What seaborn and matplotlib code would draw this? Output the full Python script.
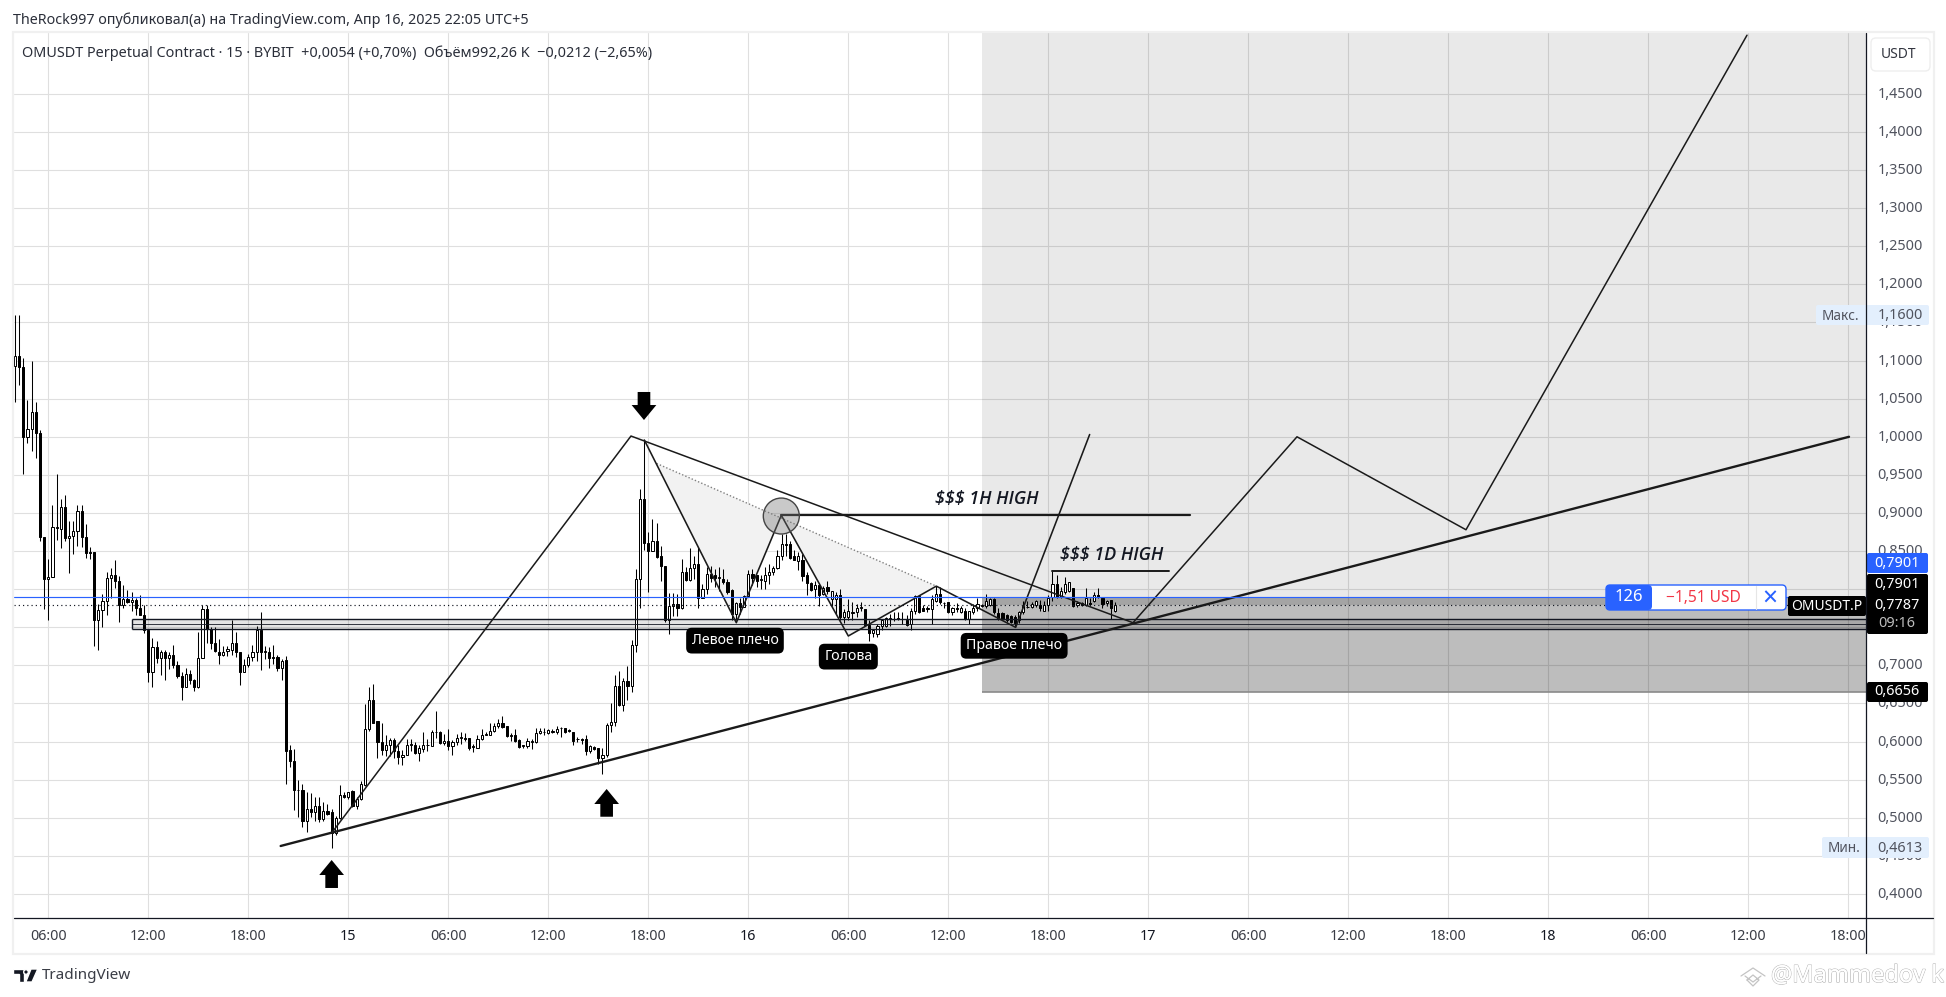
"""OMUSDT 15m chart with a drawn head and shoulders setup, TradingView look."""
import numpy as np
import seaborn as sns
from matplotlib import pyplot as plt
from matplotlib.patches import Ellipse, FancyBboxPatch, Polygon, Rectangle, Circle
from matplotlib.transforms import ScaledTranslation
import matplotlib.patheffects as pe

W, H = 1946, 997
UI_FONT = ["Noto Sans", "DejaVu Sans"]

# candles, 15 minutes each, first one at 04:00 on the 14th
OPENS = [
    1.093, 1.106, 1.092, 1.000, 1.010, 1.033, 1.005, .868, .813, .816, .880, .879, .908, .867, .870, .877, .902, .869, .849, .849,
    .759, .773, .785, .815, .818, .811, .779, .787, .783, .786, .775, .766, .747, .691, .724, .710, .717, .710, .714, .700,
    .686, .672, .689, .681, .671, .710, .774, .748, .729, .718, .713, .719, .720, .729, .718, .691, .700, .711, .718, .746,
    .718, .718, .711, .711, .696, .707, .589, .575, .537, .537, .496, .511, .507, .516, .498, .509, .507, .480, .500, .530,
    .527, .535, .516, .525, .543, .617, .655, .627, .600, .589, .596, .602, .588, .580, .583, .596, .596, .585, .590, .595,
    .594, .613, .613, .598, .601, .594, .599, .605, .605, .605, .594, .592, .603, .609, .609, .614, .620, .625, .620, .607,
    .608, .602, .594, .594, .600, .600, .611, .612, .611, .613, .612, .618, .618, .615, .612, .603, .603, .603, .588, .593,
    .591, .579, .583, .622, .626, .673, .648, .679, .673, .727, .814, .918, .861, .850, .863, .843, .831, .759, .778, .781,
    .775, .823, .812, .828, .833, .789, .800, .820, .819, .815, .814, .809, .799, .768, .782, .777, .791, .820, .818, .812,
    .811, .818, .822, .828, .844, .859, .859, .843, .837, .838, .818, .808, .800, .805, .794, .803, .787, .787, .793, .763,
    .763, .769, .770, .775, .774, .753, .743, .741, .752, .752, .761, .761, .761, .761, .759, .754, .771, .791, .775, .774,
    .774, .785, .794, .782, .783, .770, .775, .770, .772, .761, .770, .775, .778, .778, .779, .787, .769, .769, .766, .765,
    .764, .759, .770, .776, .776, .779, .779, .772, .779, .790, .807, .790, .796, .798, .802, .779, .782, .779, .782, .785,
    .792, .788, .782, .786, .772,
]
HIGHS = [
    1.160, 1.160, 1.103, 1.048, 1.099, 1.046, 1.009, .868, .840, .911, .951, .918, .924, .889, .889, .910, .911, .885, .856, .849,
    .781, .794, .823, .828, .838, .817, .806, .799, .796, .789, .792, .779, .747, .736, .732, .720, .720, .717, .727, .706,
    .691, .697, .694, .682, .744, .779, .779, .750, .750, .735, .726, .726, .759, .744, .718, .708, .715, .727, .752, .770,
    .725, .724, .727, .714, .708, .712, .595, .590, .549, .545, .534, .533, .527, .527, .521, .518, .512, .503, .543, .534,
    .534, .536, .527, .548, .649, .671, .675, .627, .625, .608, .605, .605, .596, .589, .603, .603, .600, .595, .612, .603,
    .615, .640, .614, .610, .617, .602, .610, .612, .611, .605, .597, .608, .617, .613, .625, .624, .630, .633, .621, .611,
    .616, .603, .596, .605, .603, .618, .618, .618, .616, .616, .621, .619, .618, .617, .613, .606, .605, .608, .596, .594,
    .591, .591, .625, .650, .687, .693, .684, .699, .733, .827, .932, .996, .875, .892, .887, .857, .831, .795, .795, .794,
    .839, .829, .854, .844, .855, .807, .829, .830, .826, .829, .826, .814, .800, .783, .789, .792, .825, .827, .819, .818,
    .829, .833, .830, .851, .873, .873, .863, .851, .849, .846, .822, .809, .811, .808, .804, .811, .798, .796, .800, .774,
    .787, .783, .781, .783, .774, .759, .748, .754, .761, .763, .768, .770, .770, .770, .766, .775, .793, .792, .779, .778,
    .792, .804, .803, .783, .783, .777, .782, .778, .775, .772, .780, .788, .781, .794, .788, .788, .775, .770, .768, .766,
    .766, .772, .785, .785, .783, .786, .786, .785, .792, .824, .818, .803, .816, .810, .802, .785, .783, .802, .788, .796,
    .802, .790, .786, .786, .783,
]
LOWS = [
    1.045, 1.068, .951, .992, .981, .972, .863, .774, .759, .816, .864, .854, .863, .821, .846, .857, .856, .841, .839, .725,
    .720, .750, .766, .789, .801, .757, .775, .782, .772, .766, .766, .743, .678, .671, .703, .688, .681, .695, .697, .684,
    .655, .672, .675, .667, .670, .710, .730, .721, .717, .702, .712, .712, .714, .711, .674, .691, .698, .706, .706, .694,
    .708, .696, .702, .693, .681, .545, .567, .510, .501, .488, .481, .501, .496, .494, .496, .504, .461, .477, .499, .526,
    .525, .514, .511, .523, .542, .614, .624, .579, .582, .581, .581, .579, .570, .569, .582, .588, .584, .575, .586, .588,
    .594, .605, .597, .595, .589, .583, .596, .597, .601, .589, .586, .592, .602, .608, .609, .613, .618, .618, .606, .601,
    .599, .591, .591, .591, .590, .598, .610, .609, .610, .611, .610, .606, .611, .613, .596, .600, .597, .583, .585, .589,
    .571, .558, .580, .613, .621, .647, .640, .654, .665, .717, .775, .851, .796, .850, .841, .811, .757, .741, .765, .765,
    .774, .811, .811, .814, .775, .788, .794, .809, .803, .798, .807, .794, .759, .759, .768, .776, .790, .805, .803, .800,
    .800, .807, .819, .827, .838, .844, .840, .838, .825, .811, .793, .798, .789, .778, .792, .794, .778, .768, .759, .755,
    .759, .759, .763, .772, .752, .732, .737, .737, .746, .750, .752, .758, .759, .754, .752, .747, .768, .769, .771, .770,
    .754, .783, .781, .775, .769, .766, .770, .769, .760, .754, .768, .772, .777, .775, .778, .768, .760, .759, .757, .755,
    .750, .755, .768, .775, .775, .777, .772, .771, .771, .785, .788, .788, .794, .796, .777, .777, .778, .778, .778, .783,
    .788, .775, .778, .761, .770,
]
CLOSES = [
    1.106, 1.092, 1.000, 1.010, 1.033, 1.005, .868, .813, .816, .881, .881, .908, .867, .870, .877, .902, .869, .847, .848, .759,
    .773, .785, .815, .818, .811, .779, .787, .783, .786, .775, .766, .747, .691, .724, .710, .717, .710, .714, .700, .686,
    .672, .689, .681, .671, .710, .774, .748, .729, .719, .713, .718, .721, .729, .718, .691, .700, .711, .718, .746, .718,
    .719, .710, .710, .696, .706, .588, .575, .536, .536, .496, .511, .507, .516, .498, .509, .505, .480, .500, .530, .527,
    .534, .515, .525, .544, .617, .655, .625, .600, .589, .596, .602, .588, .580, .583, .596, .597, .585, .591, .595, .596,
    .613, .612, .598, .601, .594, .600, .605, .606, .604, .591, .593, .603, .609, .610, .614, .620, .625, .619, .607, .608,
    .601, .593, .595, .601, .601, .611, .614, .613, .615, .614, .617, .618, .612, .614, .601, .604, .602, .588, .594, .590,
    .579, .583, .622, .626, .673, .648, .679, .673, .727, .814, .918, .860, .850, .863, .842, .830, .759, .778, .781, .775,
    .823, .812, .828, .833, .789, .800, .820, .815, .815, .816, .809, .796, .768, .782, .777, .791, .820, .815, .811, .814,
    .819, .822, .828, .844, .859, .858, .841, .838, .843, .817, .808, .799, .805, .793, .802, .797, .797, .793, .763, .770,
    .772, .770, .775, .776, .753, .743, .746, .752, .759, .762, .762, .761, .762, .761, .753, .771, .791, .770, .772, .775,
    .787, .794, .783, .782, .770, .775, .774, .775, .761, .771, .775, .780, .779, .784, .787, .770, .762, .761, .760, .757,
    .755, .770, .778, .777, .780, .784, .775, .779, .788, .807, .790, .798, .807, .809, .778, .782, .779, .788, .780, .792,
    .790, .781, .785, .775, .7787,
]
BAR_HOURS = 0.25
START_HOUR = 4.0

# price axis, the two prices hidden behind the black labels get no label
Y_TICKS = [0.40, 0.45, 0.50, 0.55, 0.60, 0.65, 0.70, 0.75, 0.80, 0.85, 0.90, 0.95, 1.00, 1.05, 1.10, 1.15,
           1.20, 1.25, 1.30, 1.35, 1.40, 1.45]
HIDDEN_TICKS = (0.75, 0.80)
# time axis, hours since 00:00 on the 14th
X_TICKS = list(range(6, 115, 6))
X_LABELS = ["06:00", "12:00", "18:00", "15", "06:00", "12:00", "18:00", "16", "06:00", "12:00", "18:00",
            "17", "06:00", "12:00", "18:00", "18", "06:00", "12:00", "18:00"]
DAY_LABELS = ("15", "16", "17", "18")

# drawings on the chart as hour / price pairs
TREND_X, TREND_Y = [19.94, 114.04], [0.463, 1.000]
SWING_X = [23.0, 40.96, 71.08, 80.92, 91.06, 107.92]
SWING_Y = [0.480, 1.001, 0.756, 1.000, 0.878, 1.527]
HS_X = [41.76, 47.28, 49.98, 54.0, 59.28, 64.04, 68.48]
HS_Y = [0.9958, 0.756, 0.897, 0.7386, 0.804, 0.7499, 1.003]
SHADE_X = [42.5, 59.28, 54.0, 49.98, 47.28]
SHADE_Y = [0.965, 0.804, 0.7386, 0.897, 0.756]
ZONE_PRICES = [0.7605, 0.7540, 0.7474]
BLUE_PRICE, LAST_PRICE, STOP_PRICE = 0.7901, 0.7787, 0.6656

sns.set_theme(style="white")
plt.rcParams["font.family"] = UI_FONT

fig = plt.figure(figsize=(W / 100, H / 100), dpi=100, facecolor="white")
ax = fig.add_axes([14 / W, (H - 918) / H, (1866 - 14) / W, (918 - 33) / H])
ax.set_xlim(3.942, 115.06)
ax.set_ylim(0.3685, 1.5299)
ax.set_axisbelow(True)
ax.grid(True, color="#dfdfdf", lw=0.8)
for side in ax.spines.values():
    side.set_visible(False)

ax.yaxis.tick_right()
ax.set_yticks(Y_TICKS)
ax.set_yticklabels(["" if v in HIDDEN_TICKS else f"{v:.4f}".replace(".", ",") for v in Y_TICKS],
                   color="#50535e", fontsize=10.4)
ax.tick_params(axis="y", length=0, pad=8.4)
# price labels sit a little above their grid line
lift = ScaledTranslation(0, 1.5 / 100, fig.dpi_scale_trans)
for label in ax.get_yticklabels():
    label.set_transform(label.get_transform() + lift)
ax.set_xticks(X_TICKS)
ax.set_xticklabels(X_LABELS, color="#3a3d46", fontsize=10.3)
ax.tick_params(axis="x", length=0, pad=8)
for label in ax.get_xticklabels():
    if label.get_text() in DAY_LABELS:
        label.set_fontweight("bold")
        label.set_color("#131722")

# long/short box and the support zone
right = ax.get_xlim()[1]
top = ax.get_ylim()[1]
ax.add_patch(Rectangle((62.0, BLUE_PRICE), right - 62.0, top - BLUE_PRICE, fc="black", alpha=0.085, lw=0, zorder=1.5))
ax.add_patch(Rectangle((62.0, STOP_PRICE), right - 62.0, BLUE_PRICE - STOP_PRICE, fc="black", alpha=0.26, lw=0, zorder=1.5))
ax.add_patch(Rectangle((62.0, LAST_PRICE), right - 62.0, BLUE_PRICE - LAST_PRICE, fc="black", alpha=0.13, lw=0, zorder=1.6))
ax.hlines(STOP_PRICE, 62.0, right, color="#8a8a8a", lw=1.2, zorder=1.7)
ax.add_patch(Rectangle((11.0, ZONE_PRICES[2]), right - 11.0, ZONE_PRICES[0] - ZONE_PRICES[2],
                       fc="black", alpha=0.11, lw=0, zorder=1.7))
ax.hlines(ZONE_PRICES, 11.0, right, color="#131722", lw=[1.0, 0.6, 1.0], zorder=3.2)
ax.vlines(11.0, ZONE_PRICES[2], ZONE_PRICES[0], color="#131722", lw=1.0, zorder=3.2)

ax.add_patch(Polygon(list(zip(SHADE_X, SHADE_Y)), closed=True, fc="#f2f2f2", lw=0, zorder=1.6))
sns.lineplot(x=SHADE_X[:2], y=SHADE_Y[:2], ax=ax, color="#808080", lw=1.0, ls=(0, (1, 1.5)), zorder=2.4)

# candles
opens, highs, lows, closes = map(np.array, (OPENS, HIGHS, LOWS, CLOSES))
hours = START_HOUR + np.arange(len(opens)) * BAR_HOURS
up = closes >= opens
ax.vlines(hours, lows, highs, color="black", lw=0.75, zorder=3)
ax.bar(hours[up], (closes - opens)[up], bottom=opens[up], width=0.135, fc="white", ec="black", lw=0.72, zorder=3.1)
ax.bar(hours[~up], (closes - opens)[~up], bottom=opens[~up], width=0.135, fc="black", ec="black", lw=0.72, zorder=3.1)

# hand drawn lines
line_opts = dict(ax=ax, sort=False, estimator=None, color="#1a1a1a", zorder=4)
sns.lineplot(x=TREND_X, y=TREND_Y, lw=1.7, **line_opts)
sns.lineplot(x=SWING_X, y=SWING_Y, lw=1.1, **line_opts)
sns.lineplot(x=HS_X, y=HS_Y, lw=1.15, **line_opts)
sns.lineplot(x=[49.98, 74.5], y=[0.8974, 0.8974], lw=1.6, **line_opts)
sns.lineplot(x=[66.24, 73.24], y=[0.8242, 0.8242], lw=1.4, **line_opts)
ax.add_patch(Ellipse((49.98, 0.896), 2.16, 0.0472, fc=(0.45, 0.45, 0.45, 0.38), ec="#444444", lw=1.0, zorder=4.1))

ax.axhline(BLUE_PRICE, color="#2962ff", lw=0.85, zorder=4.2)
ax.axhline(LAST_PRICE, color="#131722", lw=0.85, ls=(0, (1, 2.6)), zorder=4.2)

handdrawn = dict(family=["Open Sans", "DejaVu Sans"], style="italic", fontweight="semibold", fontsize=13,
                 color="#131722", ha="center", va="center", zorder=5)
ax.text(62.3, 0.918, "$$$ 1H HIGH", **handdrawn)
ax.text(69.82, 0.845, "$$$ 1D HIGH", **handdrawn)

for text, hx, py in (("Левое плечо", 47.2, 0.7325), ("Голова", 54.0, 0.7115), ("Правое плечо", 63.95, 0.7257)):
    ax.text(hx, py, text, color="white", fontsize=10.2, ha="center", va="center", zorder=6,
            bbox=dict(boxstyle="round,pad=0.38,rounding_size=0.4", fc="black", ec="black", lw=0))

arrow = dict(fc="black", ec="black", lw=0, width=9.1, headwidth=17.8, headlength=10.8, shrink=0)
for tip, tail in (((23.0, 0.4446), (23.0, 0.4079)), ((39.5, 0.5378), (39.5, 0.5014)), ((41.74, 1.022), (41.74, 1.0588))):
    ax.annotate("", xy=tip, xytext=tail, arrowprops=arrow, zorder=6)

# everything around the plot lives on a pixel overlay
ui = fig.add_axes([0, 0, 1, 1], zorder=10)
ui.set_xlim(0, W)
ui.set_ylim(H, 0)
ui.axis("off")


def box(x0, y0, x1, y1, color, radius=2.0, edge="none", lw=0.0):
    ui.add_patch(FancyBboxPatch((x0 + radius, y0 + radius), x1 - x0 - 2 * radius, y1 - y0 - 2 * radius,
                                boxstyle=f"round,pad={radius},rounding_size={radius}", fc=color, ec=edge, lw=lw))


ui.add_patch(Rectangle((12.5, 32.5), 1921, 921, fc="none", ec="#f0f0f0", lw=1.6))
ui.plot([1866, 1866], [33, 953], color="#131722", lw=0.9)
ui.plot([14, 1933], [918, 918], color="#131722", lw=0.9)

ui.text(13, 20, "TheRock997 опубликовал(а) на TradingView.com, Апр 16, 2025 22:05 UTC+5",
        fontsize=10.3, color="#2a2e39", va="center")
ui.text(22, 53, "OMUSDT Perpetual Contract · 15 · BYBIT  +0,0054 (+0,70%)  Объём992,26 K  −0,0212 (−2,65%)",
        fontsize=10.4, color="#2a2e39", va="center")

box(1871, 38, 1930, 71, "white", radius=5, edge="#eeeeee", lw=1)
ui.text(1898, 55, "USDT", fontsize=10, color="#333640", ha="center", va="center")

side_label = dict(fontsize=10.4, ha="center", va="center")
box(1816, 305, 1929, 325, "#e3effd")
ui.text(1840, 316, "Макс.", fontsize=9.8, color="#50535e", ha="center", va="center")
ui.text(1900, 315, "1,1600", color="#50535e", **side_label)
box(1822, 837, 1929, 858, "#e3effd")
ui.text(1844, 848, "Мин.", fontsize=9.8, color="#50535e", ha="center", va="center")
ui.text(1900, 848, "0,4613", color="#50535e", **side_label)

box(1867, 553, 1928, 573, "#2962ff")
ui.text(1897, 563, "0,7901", color="white", **side_label)
box(1867, 574, 1928, 634, "black")
ui.text(1897, 584, "0,7901", color="white", **side_label)
ui.text(1897, 605, "0,7787", color="white", **side_label)
ui.text(1897, 623, "09:16", color="#bdbdbd", **side_label)
box(1867, 682, 1928, 702, "black")
ui.text(1897, 691, "0,6656", color="white", **side_label)
box(1788, 596, 1866, 616, "black")
ui.text(1827, 606, "OMUSDT.P", color="white", fontsize=10, ha="center", va="center")

box(1606, 585, 1786, 610, "white", radius=4, edge="#2962ff", lw=1.0)
box(1606, 585, 1652, 610, "#2962ff", radius=4)
ui.text(1629, 597, "126", color="white", fontsize=12, fontweight="bold", ha="center", va="center")
ui.text(1703, 597.5, "−1,51 USD", color="#f23645", fontsize=11.2, ha="center", va="center")
ui.plot([1756, 1756], [586, 609], color="#e6e6e6", lw=0.8)
ui.text(1770, 599.5, "×", color="#2962ff", fontsize=19, fontweight="light", ha="center", va="center")

# TradingView mark
ui.add_patch(Polygon([(13.3, 969), (24, 969), (24, 982), (18.5, 982), (18.5, 974), (13.3, 974)], fc="#131722"))
ui.add_patch(Circle((26, 972), 2.3, fc="#131722"))
ui.add_patch(Polygon([(31, 969), (37.8, 969), (32, 982), (25.8, 982)], fc="#131722"))
ui.text(42, 975, "TradingView", fontsize=11, color="#3a3d46", va="center")

# watermark
mark_x = [1741, 1753, 1765, None, 1745, 1753, 1761, None, 1747, 1753, 1759, 1753, 1747]
mark_y = [976, 968, 976, None, 976, 982, 976, None, 980, 986, 980, 975, 980]
ui.plot(mark_x, mark_y, color="#c4c4c4", lw=0.9)
ui.text(1771, 976, "@Mammedov k", fontsize=17, color="white", va="center",
        path_effects=[pe.withStroke(linewidth=0.9, foreground="#b5b5b5"), pe.Normal()])

fig.savefig("out.png", dpi=100, facecolor="white")
